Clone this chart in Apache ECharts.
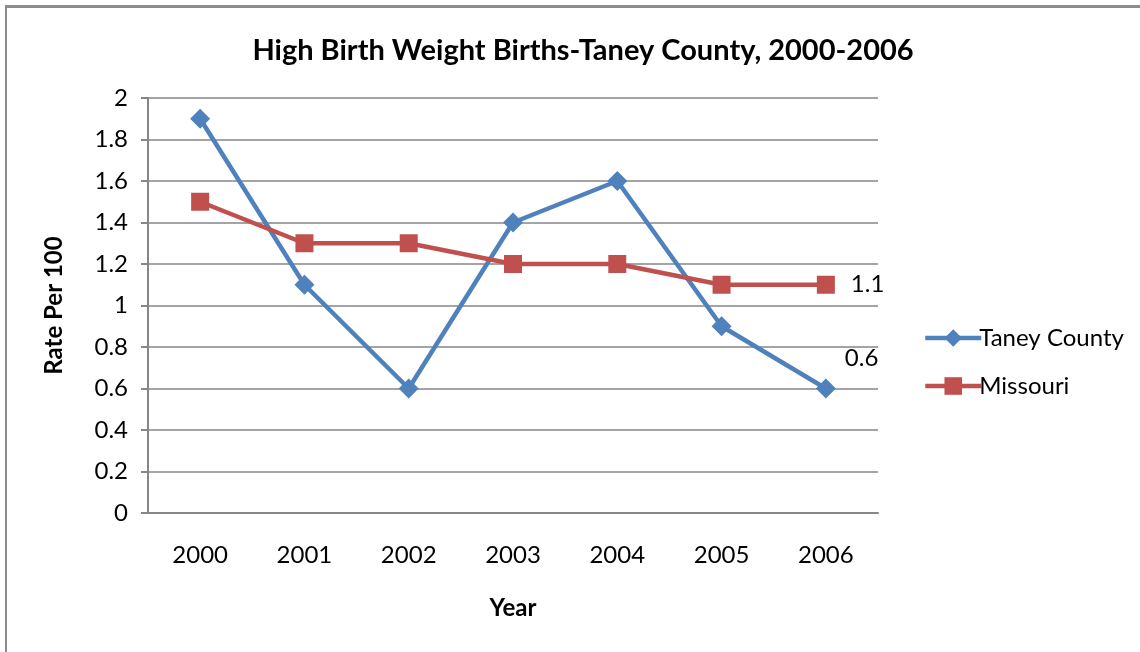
<!DOCTYPE html>
<html>
<head>
<meta charset="utf-8">
<script src="https://cdn.jsdelivr.net/npm/echarts@6/dist/echarts.min.js"></script>
<style>
  html, body { margin: 0; padding: 0; background: #fff; }
  #frame { position: absolute; left: 5px; top: 5px; width: 1135px; height: 647px;
           border-left: 2px solid #8c8c8c; border-top: 3px solid #8c8c8c; box-sizing: border-box; }
  #chart { position: absolute; left: 0; top: 0; width: 1140px; height: 652px; }
</style>
</head>
<body>
<div id="frame"></div>
<div id="chart"></div>
<script>
const years = ["2000", "2001", "2002", "2003", "2004", "2005", "2006"];
const taney = [1.9, 1.1, 0.6, 1.4, 1.6, 0.9, 0.6];
const missouri = [1.5, 1.3, 1.3, 1.2, 1.2, 1.1, 1.1];

const font = "Lato, Open Sans, sans-serif";
const axisGray = "#868686";

function lastLabel(values, label) {
  return values.map((v, i) => i === values.length - 1 ? { value: v, label } : v);
}

const chart = echarts.init(document.getElementById("chart"));
chart.setOption({
  backgroundColor: "transparent",
  animation: false,
  title: {
    text: "High Birth Weight Births-Taney County, 2000-2006",
    left: 578, top: 31, textAlign: "center",
    textStyle: { fontFamily: font, fontSize: 29, fontWeight: "bold", color: "#000" }
  },
  grid: { left: 148, right: 262, top: 98, bottom: 139 },
  legend: {
    orient: "vertical", left: 918, top: 321, itemGap: 24,
    itemWidth: 56, itemHeight: 22,
    lineStyle: { width: 4.5 },
    textStyle: { fontFamily: font, fontSize: 24, color: "#000", padding: [0, 0, 0, -7] },
    data: ["Taney County", "Missouri"]
  },
  xAxis: {
    type: "category",
    data: years,
    name: "Year", nameLocation: "middle", nameGap: 83,
    nameTextStyle: { fontFamily: font, fontSize: 24, fontWeight: "bold", color: "#000" },
    axisLine: { lineStyle: { color: axisGray, width: 2 } },
    axisTick: { show: false },
    axisLabel: { fontFamily: font, fontSize: 24, color: "#000", margin: 30 }
  },
  yAxis: {
    type: "value", min: 0, max: 2, interval: 0.2,
    name: "Rate Per 100", nameLocation: "middle", nameGap: 82,
    nameTextStyle: { fontFamily: font, fontSize: 24, fontWeight: "bold", color: "#000" },
    axisLine: { show: true, lineStyle: { color: axisGray, width: 2 } },
    axisTick: { show: true, length: 7, lineStyle: { color: axisGray, width: 2 } },
    axisLabel: { fontFamily: font, fontSize: 24, color: "#000", margin: 20,
                 formatter: v => String(Math.round(v * 10) / 10) },
    splitLine: { lineStyle: { color: axisGray, width: 1.5 } }
  },
  series: [
    {
      name: "Taney County", type: "line",
      data: lastLabel(taney, { show: true, position: "right", offset: [4, -30],
        fontFamily: font, fontSize: 24, color: "#000" }),
      symbol: "diamond", symbolSize: 20,
      lineStyle: { color: "#4f81bd", width: 4.5 },
      itemStyle: { color: "#4f81bd" }
    },
    {
      name: "Missouri", type: "line",
      data: lastLabel(missouri, { show: true, position: "right", distance: 16,
        fontFamily: font, fontSize: 24, color: "#000" }),
      symbol: "rect", symbolSize: 18,
      lineStyle: { color: "#c0504d", width: 4.5 },
      itemStyle: { color: "#c0504d" }
    }
  ]
});
</script>
</body>
</html>
